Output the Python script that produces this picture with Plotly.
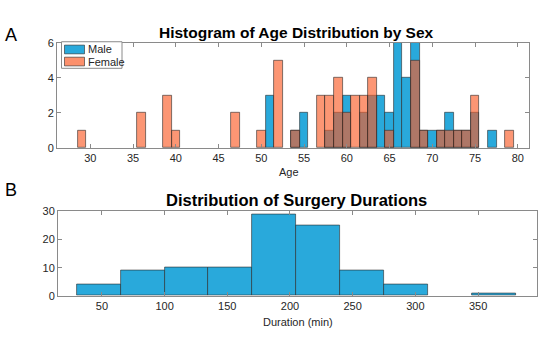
import plotly.graph_objects as go

# ---- Data: age histogram (bin width 1, centred on integer ages) ----
male_ages = [51, 54, 55, 58, 59, 60, 62, 63, 64, 65, 66, 67, 68, 69, 70, 71, 72, 73, 74, 75, 77]
male_counts = [3, 1, 2, 1, 2, 3, 2, 3, 3, 2, 6, 4, 6, 1, 1, 1, 2, 1, 1, 2, 1]
female_ages = [29, 36, 39, 40, 47, 50, 52, 54, 57, 58, 59, 60, 61, 62, 63, 65, 68, 69, 71, 72, 73, 74, 75, 79]
female_counts = [1, 2, 3, 1, 2, 1, 5, 1, 3, 3, 4, 2, 3, 3, 4, 1, 5, 1, 1, 1, 1, 1, 3, 1]
age_ticks = [30, 35, 40, 45, 50, 55, 60, 65, 70, 75, 80]
legend_labels = ["Male", "Female"]

# ---- Data: surgery duration histogram ----
duration_edges = [30, 65, 100, 135, 170, 205, 240, 275, 310, 345, 380]
duration_counts = [4, 9, 10, 10, 29, 25, 9, 4, 0, 1]
duration_ticks = [50, 100, 150, 200, 250, 300, 350]

W, H = 540, 353
def px_x(p): return p / W
def px_y(p): return 1 - p / H

BLUE = "rgb(41,169,219)"
ORANGE = "rgba(250,90,38,0.64)"
ORANGE_SOLID = "rgb(252,144,108)"
EDGE = "rgba(40,40,40,0.75)"
FONT = "Liberation Sans, Arial, sans-serif"

dur_centers = [(duration_edges[i] + duration_edges[i + 1]) / 2 for i in range(len(duration_counts))]
dur_widths = [duration_edges[i + 1] - duration_edges[i] for i in range(len(duration_counts))]
dc = [(c, w, n) for c, w, n in zip(dur_centers, dur_widths, duration_counts) if n > 0]

fig = go.Figure()
fig.add_trace(go.Bar(x=male_ages, y=male_counts, width=1, name=legend_labels[0], showlegend=False,
                     marker=dict(color=BLUE, line=dict(color=EDGE, width=0.8)),
                     xaxis="x", yaxis="y"))
fig.add_trace(go.Bar(x=female_ages, y=female_counts, width=1, name=legend_labels[1], showlegend=False,
                     marker=dict(color=ORANGE, line=dict(color=EDGE, width=0.8)),
                     xaxis="x", yaxis="y"))
fig.add_trace(go.Bar(x=[d[0] for d in dc], y=[d[2] for d in dc], width=[d[1] for d in dc],
                     showlegend=False,
                     marker=dict(color=BLUE, line=dict(color=EDGE, width=0.8)),
                     xaxis="x2", yaxis="y2"))

axis_common = dict(showline=True, linecolor="#8a8a8a", linewidth=1, mirror="allticks",
                   ticks="inside", ticklen=4, tickcolor="#8a8a8a", showgrid=False,
                   zeroline=False, tickfont=dict(family=FONT, size=11, color="#262626"))

# compact MATLAB-style legend box (shapes + text)
shapes = [
    dict(type="rect", xref="paper", yref="paper", x0=px_x(61.5), x1=px_x(122), y0=px_y(64.5), y1=px_y(37),
         line=dict(color="#8a8a8a", width=1), fillcolor="white", layer="above"),
    dict(type="rect", xref="paper", yref="paper", x0=px_x(64.5), x1=px_x(84.5), y0=px_y(49.5), y1=px_y(40.5),
         line=dict(color=EDGE, width=0.8), fillcolor=BLUE, layer="above"),
    dict(type="rect", xref="paper", yref="paper", x0=px_x(64.5), x1=px_x(84.5), y0=px_y(62), y1=px_y(53),
         line=dict(color=EDGE, width=0.8), fillcolor=ORANGE_SOLID, layer="above"),
]

fig.update_layout(
    width=W, height=H, margin=dict(l=0, r=0, t=0, b=0),
    paper_bgcolor="white", plot_bgcolor="white",
    barmode="overlay", bargap=0, showlegend=False,
    font=dict(family=FONT, color="#262626"),
    xaxis=dict(domain=[px_x(57), px_x(529)], range=[26.1, 81.3], tickvals=age_ticks,
               anchor="y", **axis_common),
    yaxis=dict(domain=[px_y(147), px_y(38)], range=[0, 6], tickvals=[0, 2, 4, 6],
               anchor="x", **axis_common),
    xaxis2=dict(domain=[px_x(58), px_x(537)], range=[15, 397], tickvals=duration_ticks,
                anchor="y2", **axis_common),
    yaxis2=dict(domain=[px_y(300), px_y(212.7)], range=[0, 30], tickvals=[0, 10, 20, 30],
                anchor="x2", **axis_common),
    shapes=shapes,
    annotations=[
        dict(text=legend_labels[0], x=px_x(86), y=px_y(45), xref="paper", yref="paper",
             showarrow=False, xanchor="left", yanchor="middle",
             font=dict(family=FONT, size=11, color="#262626")),
        dict(text=legend_labels[1], x=px_x(86), y=px_y(57.5), xref="paper", yref="paper",
             showarrow=False, xanchor="left", yanchor="middle",
             font=dict(family=FONT, size=11, color="#262626")),
        dict(text="<b>Histogram of Age Distribution by Sex</b>", x=px_x(296), y=px_y(27.5),
             xref="paper", yref="paper", showarrow=False, xanchor="center", yanchor="middle",
             font=dict(family=FONT, size=15.5, color="black")),
        dict(text="<b>Distribution of Surgery Durations</b>", x=px_x(296), y=px_y(201),
             xref="paper", yref="paper", showarrow=False, xanchor="center", yanchor="middle",
             font=dict(family=FONT, size=16.5, color="black")),
        dict(text="Age", x=px_x(289), y=px_y(171.5), xref="paper", yref="paper",
             showarrow=False, xanchor="center", yanchor="middle",
             font=dict(family=FONT, size=11, color="#262626")),
        dict(text="Duration (min)", x=px_x(298), y=px_y(327), xref="paper", yref="paper",
             showarrow=False, xanchor="center", yanchor="middle",
             font=dict(family=FONT, size=11, color="#262626")),
        dict(text="A", x=px_x(11), y=px_y(30), xref="paper", yref="paper",
             showarrow=False, xanchor="center", yanchor="middle",
             font=dict(family=FONT, size=18, color="black")),
        dict(text="B", x=px_x(11), y=px_y(190), xref="paper", yref="paper",
             showarrow=False, xanchor="center", yanchor="middle",
             font=dict(family=FONT, size=18, color="black")),
    ],
)

fig.write_html("out.html")
